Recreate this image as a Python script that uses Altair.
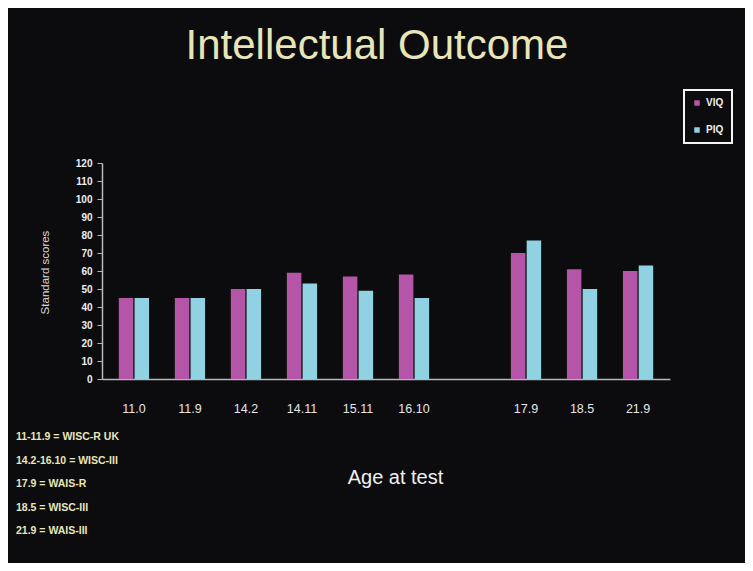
import altair as alt
import pandas as pd

ages = ["11.0", "11.9", "14.2", "14.11", "15.11", "16.10", " ", "17.9", "18.5", "21.9"]
real_ages = ["11.0", "11.9", "14.2", "14.11", "15.11", "16.10", "17.9", "18.5", "21.9"]
viq = [45, 45, 50, 59, 57, 58, 70, 61, 60]
piq = [45, 45, 50, 53, 49, 45, 77, 50, 63]
series = ["VIQ", "PIQ"]
colors = ["#b455a8", "#90d2e2"]
y_ticks = list(range(0, 121, 10))
footnotes = ["11-11.9 = WISC-R UK", "14.2-16.10 = WISC-III", "17.9 = WAIS-R",
             "18.5 = WISC-III", "21.9 = WAIS-III"]

rows = []
for a, v, p in zip(real_ages, viq, piq):
    rows.append({"age": a, "series": "VIQ", "score": v})
    rows.append({"age": a, "series": "PIQ", "score": p})
df = pd.DataFrame(rows)

FONT = "Liberation Sans"
TXT = "#e8e6b8"

bars = alt.Chart(df).mark_bar().encode(
    x=alt.X("age:N", sort=ages,
            scale=alt.Scale(domain=ages, paddingInner=0.46, paddingOuter=0.30),
            axis=alt.Axis(title="Age at test", ticks=False, labelAngle=0,
                          labelPadding=23, labelFontSize=12.5, labelColor="#e6e6e6",
                          labelFont=FONT, domainColor="#b8b8b8", domainWidth=1.5,
                          titleColor="#f0f0f0", titleFont=FONT, titleFontSize=20,
                          titleFontWeight="normal", titleX=293, titleY=98,
                          titleAlign="center", titleBaseline="middle")),
    xOffset=alt.XOffset("series:N", sort=series,
                        scale=alt.Scale(domain=series, paddingInner=0.08)),
    y=alt.Y("score:Q",
            scale=alt.Scale(domain=[0, 120], nice=False),
            axis=alt.Axis(title="Standard scores", values=y_ticks, grid=False,
                          tickSize=5, tickColor="#b8b8b8", domainColor="#b8b8b8",
                          domainWidth=1.5, labelColor="#eeeeee", labelFont=FONT,
                          labelFontSize=10, labelFontWeight="bold", labelPadding=5,
                          titleColor="#d8d8d8", titleFont=FONT, titleFontSize=11.5,
                          titleFontWeight="normal", titleX=-57, titleY=109,
                          titleAngle=270, titleAlign="center",
                          titleBaseline="middle")),
    color=alt.Color("series:N", sort=series,
                    scale=alt.Scale(domain=series, range=colors),
                    legend=alt.Legend(title=None, orient="none", legendX=582,
                                      legendY=-73, strokeColor="#f4f4f4",
                                      padding=8, rowPadding=17,
                                      symbolType="square", symbolSize=30,
                                      labelColor="#f0f0f0", labelFont=FONT,
                                      labelFontSize=10, labelFontWeight="bold")),
)

notes = alt.Chart(pd.DataFrame({"t": ["\n".join(footnotes)]})).mark_text(
    align="left", baseline="middle", font=FONT, fontSize=10.5, fontWeight="bold",
    color=TXT, lineHeight=23.5, lineBreak="\n",
).encode(text="t:N", x=alt.value(-86), y=alt.value(274))

chart = alt.layer(bars, notes).properties(
    width=568, height=216,
    autosize=alt.AutoSizeParams(type="none"),
    padding={"left": 94, "top": 155, "right": 75, "bottom": 184},
    background="#0c0c0e",
    title=alt.TitleParams("Intellectual Outcome", font=FONT, fontSize=42,
                          fontWeight="normal", color=TXT, anchor="middle",
                          dx=-9, offset=21),
).configure_view(stroke=None).configure_legend(strokeWidth=2)

chart.save("out.html", embed_options={"renderer": "svg", "actions": False})
